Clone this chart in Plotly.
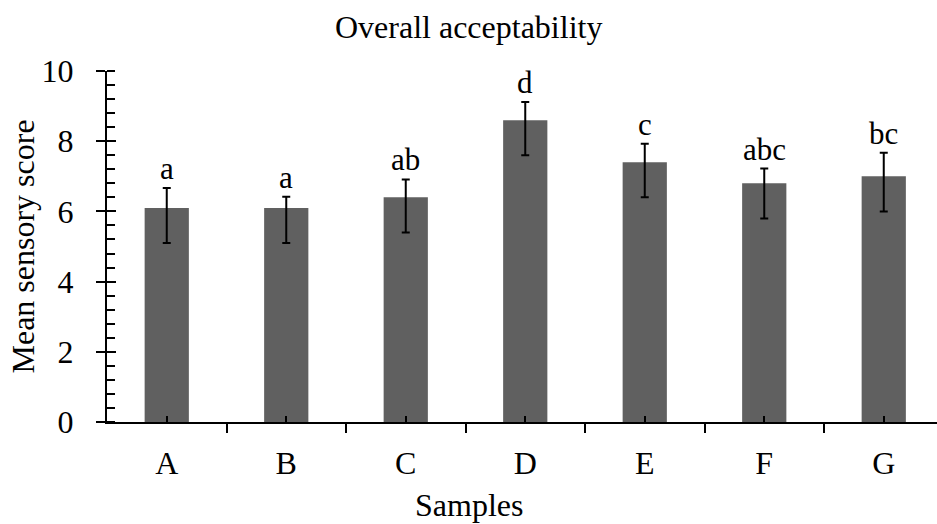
import plotly.graph_objects as go

samples = ["A", "B", "C", "D", "E", "F", "G"]
means = [6.1, 6.1, 6.4, 8.6, 7.4, 6.8, 7.0]
err_plus = [0.57, 0.32, 0.51, 0.52, 0.53, 0.42, 0.67]
err_minus = [1.0, 1.0, 1.0, 1.0, 1.0, 1.0, 1.0]
letters = ["a", "a", "ab", "d", "c", "abc", "bc"]
y_ticks = [0, 2, 4, 6, 8, 10]

FONT = "Liberation Serif, Times New Roman, serif"
FS = 32
W, H = 937, 524
L, R, T, B = 107, 0, 71, 102

xs = list(range(len(samples)))

fig = go.Figure()
fig.add_trace(go.Bar(
    x=xs, y=means, width=0.37,
    marker=dict(color="#606060", line=dict(width=0)),
    error_y=dict(type="data", symmetric=False, array=err_plus, arrayminus=err_minus,
                 color="black", thickness=2, width=4),
    showlegend=False, hoverinfo="skip",
))
# invisible trace for overlay axis
fig.add_trace(go.Scatter(x=[xs[0]], y=[0], yaxis="y2", mode="markers",
                         marker=dict(opacity=0), showlegend=False, hoverinfo="skip"))

for x, m, p, t in zip(xs, means, err_plus, letters):
    fig.add_annotation(x=x, y=m + p, text=t, showarrow=False, yanchor="bottom",
                       yshift=0, font=dict(family=FONT, size=31, color="black"))

fig.add_annotation(xref="paper", yref="paper", x=(W / 2 - L) / (W - L - R), y=1,
                   yshift=T - 27, text="Overall acceptability", showarrow=False,
                   yanchor="middle", font=dict(family=FONT, size=FS, color="black"))
fig.add_annotation(xref="paper", yref="paper", x=(W / 2 - L) / (W - L - R), y=0,
                   yshift=-(505 - (H - B)), text="Samples", showarrow=False,
                   yanchor="middle", font=dict(family=FONT, size=FS, color="black"))
fig.add_annotation(xref="paper", yref="paper", x=(22 - L) / (W - L - R), y=0.5,
                   text="Mean sensory score", textangle=-90, showarrow=False,
                   xanchor="center", yanchor="middle",
                   font=dict(family=FONT, size=FS, color="black"))

fig.update_layout(
    width=W, height=H,
    margin=dict(l=L, r=R, t=T, b=B),
    paper_bgcolor="white", plot_bgcolor="white",
    font=dict(family=FONT, size=FS, color="black"),
    xaxis=dict(
        range=[-0.5, -0.5 + len(samples) * (W - L - R) / 836.5],
        tickmode="array", tickvals=xs, ticktext=samples,
        ticks="inside", ticklen=6, tickwidth=2, tickcolor="black",
        ticklabelstandoff=12,
        minor=dict(tickmode="array", tickvals=[i - 0.5 for i in range(len(samples) + 1)],
                   ticks="outside", ticklen=9, tickwidth=2, tickcolor="black"),
        showline=True, linecolor="black", linewidth=2,
        showgrid=False, zeroline=False,
        tickfont=dict(family=FONT, size=FS, color="black"),
    ),
    yaxis=dict(
        range=[0, 10], tickmode="array", tickvals=y_ticks,
        ticks="outside", ticklen=9, tickwidth=2, tickcolor="black",
        ticklabelstandoff=16,
        minor=dict(tickmode="linear", tick0=0, dtick=0.4, ticks="inside",
                   ticklen=8, tickwidth=2, tickcolor="black"),
        showline=True, linecolor="black", linewidth=2,
        showgrid=False, zeroline=False,
        tickfont=dict(family=FONT, size=FS, color="black"),
    ),
    yaxis2=dict(
        range=[0, 10], overlaying="y", side="left", tickmode="array", tickvals=y_ticks,
        ticks="inside", ticklen=9, tickwidth=2, tickcolor="black",
        showticklabels=False, showline=False, showgrid=False, zeroline=False,
    ),
)

fig.write_html("out.html")
